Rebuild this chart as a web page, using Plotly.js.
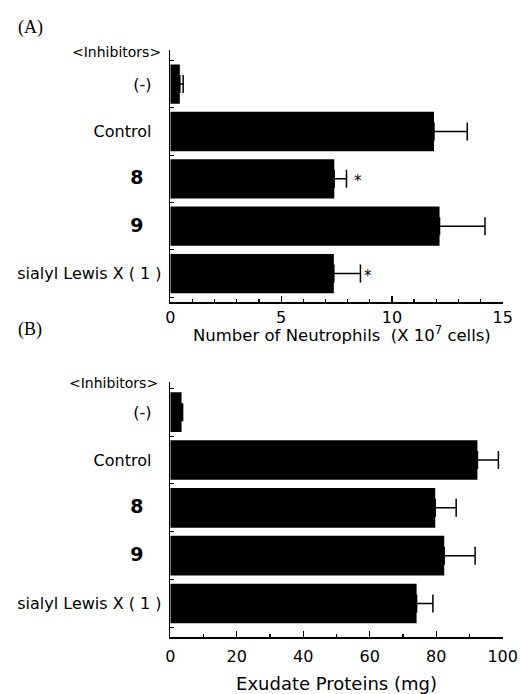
<!DOCTYPE html>
<html>
<head>
<meta charset="utf-8">
<script src="https://cdn.plot.ly/plotly-3.0.1.min.js"></script>
<style>html,body{margin:0;padding:0;background:#fff;}</style>
</head>
<body>
<div id="chart" style="width:520px;height:694px;"></div>
<script>
// ---- data ----
const categories = ['(-)', 'Control', '8', '9', 'sialyl Lewis X ( 1 )'];
const neutrophils = [0.43, 11.9, 7.4, 12.15, 7.38];
const neutrophilsErr = [0.15, 1.5, 0.55, 2.05, 1.2];
const proteins = [3.4, 92.4, 79.7, 82.4, 74.1];
const proteinsErr = [0.3, 6.3, 6.3, 9.3, 4.9];
const significanceA = ['', '', '*', '', '*'];
const xTitleA = 'Number of Neutrophils  (X 10<sup>7</sup> cells)';
const xTitleB = 'Exudate Proteins (mg)';
const groupLabel = '&lt;Inhibitors&gt;';

// ---- styling helpers ----
const boldCats = ['8', '9'];
const padCount = {'(-)': 2, 'Control': 2, '8': 3, '9': 3};
function fmtLabel(c) {
  const pad = '&nbsp;'.repeat(padCount[c] || 0);
  if (boldCats.includes(c)) {
    return '<span style="font-size:19px"><b>' + c + '</b>' + pad + '</span>';
  }
  return c + pad;
}
const tickText = categories.map(fmtLabel);

const FONT = 'DejaVu Sans, Arial, sans-serif';
const errStyle = {type: 'data', symmetric: false, color: '#000', thickness: 1.5, width: 9};

const traceA = {
  type: 'bar', orientation: 'h', x: neutrophils, y: categories,
  xaxis: 'x', yaxis: 'y', width: 0.83,
  marker: {color: '#000', line: {width: 0}},
  error_x: Object.assign({array: neutrophilsErr, arrayminus: neutrophilsErr.map(() => 0)}, errStyle),
  hoverinfo: 'skip'
};
const traceB = {
  type: 'bar', orientation: 'h', x: proteins, y: categories,
  xaxis: 'x2', yaxis: 'y2', width: 0.83,
  marker: {color: '#000', line: {width: 0}},
  error_x: Object.assign({array: proteinsErr, arrayminus: proteinsErr.map(() => 0)}, errStyle),
  hoverinfo: 'skip'
};

const W = 520, H = 694;
const px = v => v / W, py = v => 1 - v / H;

const xCommon = {
  showgrid: false, zeroline: false, showline: true, linecolor: '#000', linewidth: 1.5,
  ticks: 'inside', ticklen: 6, tickwidth: 1.2, tickcolor: '#000',
  tickfont: {family: FONT, size: 16, color: '#000'},
  fixedrange: true
};
const yCommon = {
  type: 'category', showgrid: false, zeroline: false, showline: true,
  linecolor: '#000', linewidth: 1.5,
  tickmode: 'array', tickvals: categories, ticktext: tickText,
  ticks: 'inside', tickson: 'boundaries', ticklen: 4, tickcolor: '#000',
  tickfont: {family: FONT, size: 16, color: '#000'},
  ticklabelstandoff: 4, automargin: false, fixedrange: true
};

const shiftsA = [0, 0, 12, 0, 8];
const annotations = [];
significanceA.forEach((s, i) => {
  if (!s) return;
  annotations.push({
    xref: 'x', yref: 'y', x: neutrophils[i] + neutrophilsErr[i], y: i,
    text: s, showarrow: false, xanchor: 'center', xshift: shiftsA[i], yshift: -2,
    font: {family: FONT, size: 15, color: '#000'}
  });
});
annotations.push(
  {xref: 'paper', yref: 'paper', x: px(16), y: py(27), text: '(A)', showarrow: false,
   xanchor: 'left', yanchor: 'middle', font: {family: 'Liberation Serif, Times New Roman, serif', size: 18, color: '#000'}},
  {xref: 'paper', yref: 'paper', x: px(16), y: py(329), text: '(B)', showarrow: false,
   xanchor: 'left', yanchor: 'middle', font: {family: 'Liberation Serif, Times New Roman, serif', size: 18, color: '#000'}},
  {xref: 'paper', yref: 'paper', x: px(163), y: py(52), text: groupLabel, showarrow: false,
   xanchor: 'right', yanchor: 'middle', font: {family: FONT, size: 14, color: '#000'}},
  {xref: 'paper', yref: 'paper', x: px(160), y: py(383), text: groupLabel, showarrow: false,
   xanchor: 'right', yanchor: 'middle', font: {family: FONT, size: 14, color: '#000'}},
  {xref: 'paper', yref: 'paper', x: px(342), y: py(334), text: xTitleA, showarrow: false,
   xanchor: 'center', yanchor: 'middle', font: {family: FONT, size: 16.5, color: '#000'}}
);

const layout = {
  width: W, height: H,
  margin: {l: 0, r: 0, t: 0, b: 0},
  paper_bgcolor: '#fff', plot_bgcolor: '#fff',
  showlegend: false, bargap: 0.17,
  font: {family: FONT, color: '#000'},
  xaxis: Object.assign({}, xCommon, {
    domain: [px(170.3), px(502.7)], anchor: 'y', range: [0, 15], dtick: 5, tick0: 0,
    minor: {dtick: 1, ticks: 'inside', ticklen: 3, tickcolor: '#000'}
  }),
  yaxis: Object.assign({}, yCommon, {
    domain: [py(302), py(50)], anchor: 'x', range: [4.6, -0.72]
  }),
  xaxis2: Object.assign({}, xCommon, {
    domain: [px(170.3), px(502.7)], anchor: 'y2', range: [0, 100], dtick: 20, tick0: 0,
    minor: {dtick: 10, ticks: 'inside', ticklen: 3, tickcolor: '#000'},
    ticklabelstandoff: 4,
    title: {text: xTitleB, font: {family: FONT, size: 18, color: '#000'}, standoff: 12}
  }),
  yaxis2: Object.assign({}, yCommon, {
    domain: [py(637), py(382)], anchor: 'x2', range: [4.7, -0.63]
  }),
  annotations: annotations
};

Plotly.newPlot('chart', [traceA, traceB], layout, {displayModeBar: false, staticPlot: true});
</script>
</body>
</html>
